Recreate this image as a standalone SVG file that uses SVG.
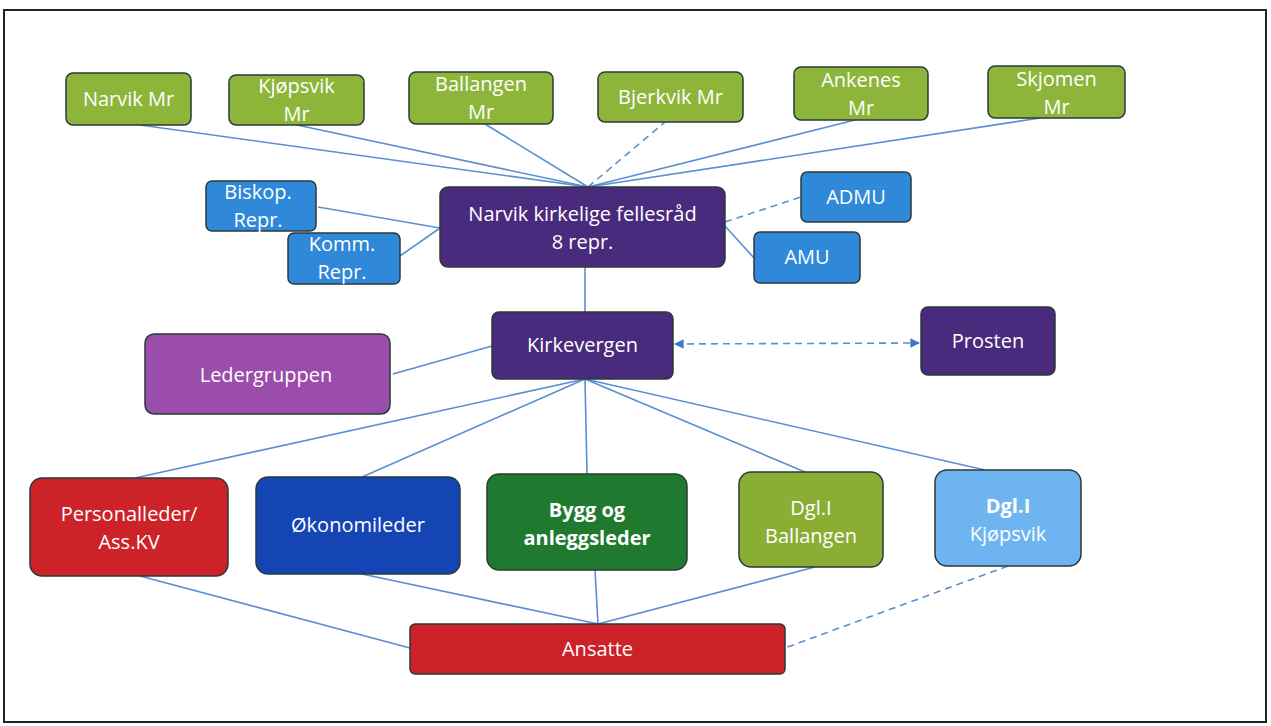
<svg xmlns="http://www.w3.org/2000/svg" width="1271" height="726" viewBox="0 0 1271 726">
<defs>
<style>
.n{stroke:#2a3a3a;stroke-width:1.5}
.t{font-family:"Open Sans","Liberation Sans",sans-serif;font-size:20px;fill:#ffffff;text-anchor:middle}
.b{font-weight:bold}
.c{stroke:#5a8fd2;stroke-width:1.6;fill:none}
.d{stroke:#5a8fd2;stroke-width:1.6;fill:none;stroke-dasharray:7 5}
.g{fill:#8db53a}
.bl{fill:#2f88d8}
.pu{fill:#4a2a7c}
</style>
<marker id="ah" viewBox="0 0 10 10" refX="9" refY="5" markerWidth="6" markerHeight="6" orient="auto-start-reverse">
<path d="M0,0 L10,5 L0,10 z" fill="#3a78c8"/>
</marker>
</defs>
<rect width="1271" height="726" fill="#ffffff"/>
<rect x="4" y="10" width="1262" height="712" fill="none" stroke="#222" stroke-width="2"/>
<g id="connectors">
<line class="c" x1="588" y1="187" x2="140" y2="125"/>
<line class="c" x1="588" y1="187" x2="297" y2="125"/>
<line class="c" x1="588" y1="187" x2="485" y2="124"/>
<line class="d" x1="588" y1="187" x2="665" y2="122"/>
<line class="c" x1="588" y1="187" x2="855" y2="120"/>
<line class="c" x1="588" y1="187" x2="1040" y2="118"/>
<line class="c" x1="318" y1="207" x2="440" y2="228"/>
<line class="c" x1="400" y1="256" x2="440" y2="228"/>
<line class="d" x1="725" y1="222" x2="801" y2="197"/>
<line class="c" x1="725" y1="226" x2="754" y2="258"/>
<line class="c" x1="585" y1="267" x2="585" y2="312"/>
<line class="c" x1="492" y1="346" x2="393" y2="374"/>
<line class="d" x1="675" y1="344" x2="919" y2="343" marker-start="url(#ah)" marker-end="url(#ah)"/>
<line class="c" x1="585" y1="379" x2="135" y2="478"/>
<line class="c" x1="585" y1="379" x2="362" y2="477"/>
<line class="c" x1="585" y1="379" x2="587" y2="474"/>
<line class="c" x1="585" y1="379" x2="805" y2="472"/>
<line class="c" x1="585" y1="379" x2="985" y2="470"/>
<line class="c" x1="140" y1="576" x2="410" y2="648"/>
<line class="c" x1="362" y1="574" x2="598" y2="624"/>
<line class="c" x1="595" y1="570" x2="598" y2="624"/>
<line class="c" x1="815" y1="567" x2="598" y2="624"/>
<line class="d" x1="1008" y1="566" x2="785" y2="648"/>
</g>
<g id="narvik-mr"><rect class="n g" x="66" y="73" width="125" height="52" rx="7"/><text class="t" x="128.5" y="106">Narvik Mr</text></g>
<g id="kjopsvik-mr"><rect class="n g" x="229" y="75" width="135" height="50" rx="7"/><text class="t" x="296.5" y="93">Kjøpsvik</text><text class="t" x="296.5" y="121">Mr</text></g>
<g id="ballangen-mr"><rect class="n g" x="409" y="72" width="144" height="52" rx="7"/><text class="t" x="481" y="91">Ballangen</text><text class="t" x="481" y="119">Mr</text></g>
<g id="bjerkvik-mr"><rect class="n g" x="598" y="72" width="145" height="50" rx="7"/><text class="t" x="670.5" y="104">Bjerkvik Mr</text></g>
<g id="ankenes-mr"><rect class="n g" x="794" y="67" width="134" height="53" rx="7"/><text class="t" x="861" y="87">Ankenes</text><text class="t" x="861" y="115">Mr</text></g>
<g id="skjomen-mr"><rect class="n g" x="988" y="66" width="137" height="52" rx="7"/><text class="t" x="1056.5" y="86">Skjomen</text><text class="t" x="1056.5" y="114">Mr</text></g>
<g id="biskop-repr"><rect class="n bl" x="206" y="181" width="110" height="50" rx="6"/><text class="t" x="258" y="199">Biskop.</text><text class="t" x="258" y="227">Repr.</text></g>
<g id="komm-repr"><rect class="n bl" x="288" y="233" width="112" height="51" rx="6"/><text class="t" x="342" y="251">Komm.</text><text class="t" x="342" y="279">Repr.</text></g>
<g id="fellesrad"><rect class="n pu" x="440" y="187" width="285" height="80" rx="8"/><text class="t" x="582.5" y="221">Narvik kirkelige fellesråd</text><text class="t" x="582.5" y="249">8 repr.</text></g>
<g id="admu"><rect class="n bl" x="801" y="172" width="110" height="50" rx="6"/><text class="t" x="856" y="204">ADMU</text></g>
<g id="amu"><rect class="n bl" x="754" y="232" width="106" height="51" rx="6"/><text class="t" x="807" y="264">AMU</text></g>
<g id="kirkevergen"><rect class="n pu" x="492" y="312" width="181" height="67" rx="7"/><text class="t" x="582.5" y="352">Kirkevergen</text></g>
<g id="prosten"><rect class="n pu" x="921" y="307" width="134" height="68" rx="7"/><text class="t" x="988" y="348">Prosten</text></g>
<g id="ledergruppen"><rect class="n" x="145" y="334" width="245" height="80" rx="9" fill="#9a4dab"/><text class="t" x="266" y="382">Ledergruppen</text></g>
<g id="personalleder"><rect class="n" x="30" y="478" width="198" height="98" rx="12" fill="#cc2228"/><text class="t" x="129" y="521">Personalleder/</text><text class="t" x="129" y="549">Ass.KV</text></g>
<g id="okonomileder"><rect class="n" x="256" y="477" width="204" height="97" rx="12" fill="#1545b5"/><text class="t" x="358" y="532">Økonomileder</text></g>
<g id="bygg"><rect class="n" x="487" y="474" width="200" height="96" rx="12" fill="#1f7a2f"/><text class="t b" x="587" y="517">Bygg og</text><text class="t b" x="587" y="545">anleggsleder</text></g>
<g id="dgl-ballangen"><rect class="n" x="739" y="472" width="144" height="95" rx="12" fill="#8aae34"/><text class="t" x="811" y="515">Dgl.I</text><text class="t" x="811" y="543">Ballangen</text></g>
<g id="dgl-kjopsvik"><rect class="n" x="935" y="470" width="146" height="96" rx="12" fill="#6db4f0"/><text class="t b" x="1008" y="513">Dgl.I</text><text class="t" x="1008" y="541">Kjøpsvik</text></g>
<g id="ansatte"><rect class="n" x="410" y="624" width="375" height="50" rx="5" fill="#cc2228"/><text class="t" x="597.5" y="656">Ansatte</text></g>
</svg>
